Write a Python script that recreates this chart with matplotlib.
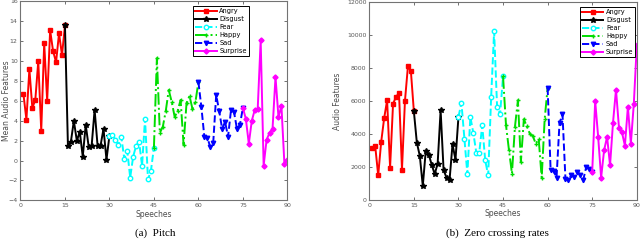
import numpy as np
import matplotlib
matplotlib.use('Agg')
import matplotlib.pyplot as plt

# emotion classes, each run of 15 speeches (later ones share their first point)
emotions = ['Angry', 'Disgust', 'Fear', 'Happy', 'Sad', 'Surprise']
starts = [1, 15, 30, 45, 60, 75]

# (a) pitch
pitch_angry = [6.7, 4.1, 9.2, 5.3, 6.1, 10.0, 3.0, 11.8, 6.0, 13.1, 11.0, 9.9, 12.8, 10.6, 13.6]
pitch_disgust = [13.6, 1.5, 1.9, 4.0, 2.0, 2.9, 0.4, 3.6, 1.4, 1.5, 5.1, 1.5, 1.5, 3.2, 0.1, 2.5]
pitch_fear = [2.5, 2.6, 2.1, 1.6, 2.4, 0.2, 1.0, -1.7, 0.4, 1.5, 1.9, -0.5, 4.2, -1.9, -1.0, 1.3]
pitch_happy = [1.3, 10.3, 2.8, 3.4, 5.0, 7.1, 5.9, 4.4, 5.0, 6.1, 1.6, 5.8, 6.5, 5.2, 5.9, 7.9]
pitch_sad = [7.9, 5.4, 2.4, 2.3, 1.4, 1.8, 6.6, 5.0, 3.2, 3.9, 2.4, 5.1, 4.9, 3.2, 3.6, 5.3]
pitch_surprise = [5.3, 4.2, 1.7, 4.0, 5.1, 5.2, 12.1, -0.5, 2.1, 2.8, 3.2, 8.4, 4.4, 5.5, -0.3, 0.1]

# (b) zero crossing rates
zcr_angry = [3170, 3250, 1490, 3510, 4950, 6040, 1960, 5840, 6240, 6480, 1840, 6000, 8100, 7800, 5370]
zcr_disgust = [5370, 3470, 2670, 850, 2970, 2750, 2140, 1560, 2200, 5430, 1800, 1350, 1190, 3370, 2440, 5030]
zcr_fear = [5030, 5880, 3720, 1560, 5030, 4060, 2870, 2870, 4520, 2400, 1490, 6240, 10220, 5640, 5190, 7490]
zcr_happy = [7490, 4520, 3010, 1600, 4420, 6040, 2300, 4890, 4460, 4020, 3880, 3410, 3680, 1350, 4890, 6790]
zcr_sad = [6790, 1840, 1760, 1350, 4670, 5190, 1250, 1230, 1490, 1390, 1700, 1530, 1230, 2000, 1900, 1700]
zcr_surprise = [1700, 6000, 3820, 1350, 3010, 3820, 2100, 4690, 6690, 4380, 4100, 3290, 5640, 3410, 5840, 9370]

styles = [
    dict(color='#ff0000', ls='-', marker='s', mfc='#ff0000'),
    dict(color='black', ls='-', marker='*', mfc='black'),
    dict(color='#00ffff', ls='--', marker='o', mfc='white'),
    dict(color='#00dd00', ls='-.', marker='+', mfc='#00dd00'),
    dict(color='#0000ff', ls='--', marker='v', mfc='#0000ff'),
    dict(color='#ff00ff', ls='-', marker='D', mfc='#ff00ff'),
]

fig = plt.figure(figsize=(6.4, 2.48), dpi=100)
ax1 = fig.add_axes([0.032, 0.192, 0.417, 0.802])
ax2 = fig.add_axes([0.577, 0.194, 0.418, 0.798])

def draw(ax, series, ylabel, yticks, legend_xy, ylab_x):
    for name, st, vals, s in zip(emotions, starts, series, styles):
        x = np.arange(st, st + len(vals))
        ms = 3.2 if s['marker'] != 'D' else 2.6
        if s['marker'] == '*':
            ms = 4
        ax.plot(x, vals, lw=1.4, ms=ms, mew=1.0, mec=s['color'], label=name,
                color=s['color'], ls=s['ls'], marker=s['marker'], mfc=s['mfc'])
    ax.set_xlim(0, 90)
    ax.set_xticks([0, 15, 30, 45, 60, 75, 90])
    ax.set_ylim(yticks[0], yticks[-1])
    ax.set_yticks(yticks)
    ax.tick_params(direction='in', length=2.5, width=0.6, labelsize=4.5,
                   top=True, right=True, colors='0.35', pad=2)
    for sp in ax.spines.values():
        sp.set_color('0.45')
        sp.set_linewidth(0.8)
    ax.set_xlabel('Speeches', fontsize=5.5, color='0.3', labelpad=1)
    ax.set_ylabel(ylabel, fontsize=5.5, color='0.3')
    ax.yaxis.set_label_coords(ylab_x, 0.5)
    leg = ax.legend(loc='upper right', bbox_to_anchor=legend_xy, borderaxespad=0,
                    fontsize=4.8, handlelength=3.2, handletextpad=0.4,
                    labelspacing=0.3, borderpad=0.3, fancybox=False,
                    framealpha=1, edgecolor='black')
    leg.get_frame().set_linewidth(0.7)

draw(ax1, [pitch_angry, pitch_disgust, pitch_fear, pitch_happy, pitch_sad, pitch_surprise],
     'Mean Audio Features', list(range(-4, 17, 2)), (0.856, 0.976), -0.036)
draw(ax2, [zcr_angry, zcr_disgust, zcr_fear, zcr_happy, zcr_sad, zcr_surprise],
     'Audio Features', list(range(0, 12001, 2000)), (0.995, 0.975), -0.103)

fig.text(0.242, 0.048, '(a)  Pitch', ha='center', fontsize=8, family='Liberation Serif')
fig.text(0.778, 0.048, '(b)  Zero crossing rates', ha='center', fontsize=8, family='Liberation Serif')

fig.savefig('out.png', dpi=100)
